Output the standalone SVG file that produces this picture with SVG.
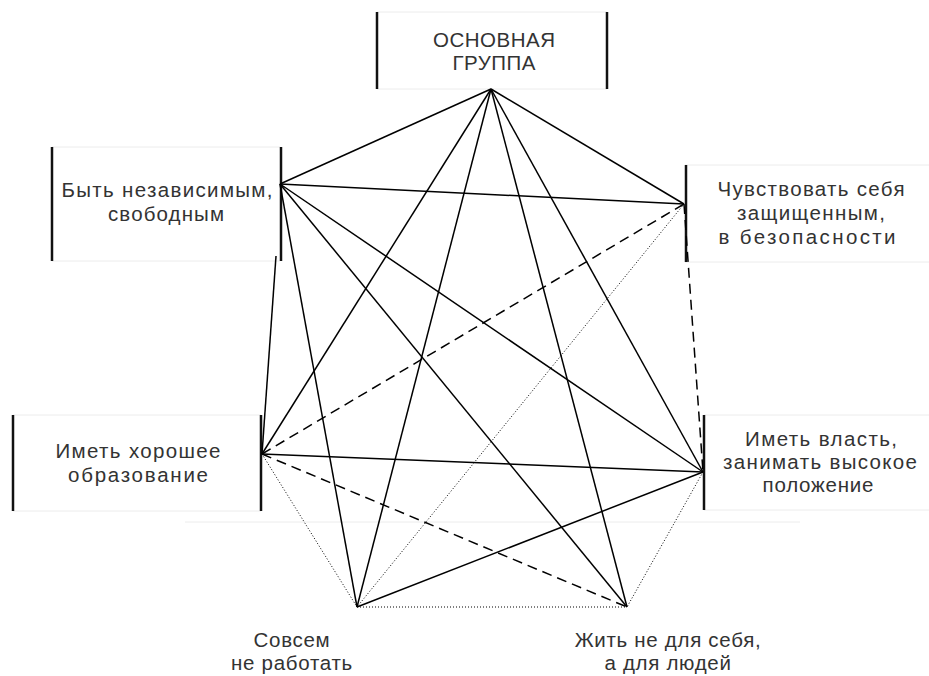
<svg xmlns="http://www.w3.org/2000/svg" width="929" height="676" viewBox="0 0 929 676">
<style>
.bg{fill:#ffffff}
.bar{stroke:#111;stroke-width:2.5;fill:none}
.rule{stroke:#ececec;stroke-width:1;fill:none}
.t{font-family:"Liberation Sans",Arial,sans-serif;font-size:20.5px;fill:#333;text-anchor:middle}
.b{letter-spacing:0.7px}
.s{stroke:#000;stroke-width:1.5;fill:none}
.d{stroke:#000;stroke-width:1.5;fill:none;stroke-dasharray:10 6}
.o{stroke:#000;stroke-width:1;fill:none;stroke-dasharray:1 2}
</style>
<rect class="bg" x="0" y="0" width="929" height="676"/>
<g id="rules">
<line class="rule" x1="185" y1="522" x2="800" y2="522"/>
</g>
<g id="node-main">
<line class="rule" x1="377" y1="12" x2="607" y2="12"/>
<line class="rule" x1="377" y1="89" x2="607" y2="89"/>
<line class="bar" x1="377" y1="12" x2="377" y2="89"/>
<line class="bar" x1="607" y1="12" x2="607" y2="89"/>
<text class="t" x="494" y="47" textLength="122" lengthAdjust="spacing">ОСНОВНАЯ</text>
<text class="t" x="494" y="70" textLength="83" lengthAdjust="spacing">ГРУППА</text>
</g>
<g id="node-free">
<line class="rule" x1="52" y1="147" x2="280" y2="147"/>
<line class="rule" x1="52" y1="261" x2="280" y2="261"/>
<line class="bar" x1="52" y1="147" x2="52" y2="261"/>
<line class="bar" x1="281" y1="147" x2="281" y2="261"/>
<text class="t" x="167" y="197" textLength="211" lengthAdjust="spacing">Быть независимым,</text>
<text class="t" x="166" y="221" textLength="116" lengthAdjust="spacing">свободным</text>
</g>
<g id="node-safe">
<line class="rule" x1="685" y1="165" x2="929" y2="165"/>
<line class="rule" x1="685" y1="262" x2="929" y2="262"/>
<line class="bar" x1="686" y1="165" x2="686" y2="262"/>
<text class="t" x="811" y="196" textLength="187" lengthAdjust="spacing">Чувствовать себя</text>
<text class="t" x="811" y="220" textLength="148" lengthAdjust="spacing">защищенным,</text>
<text class="t" x="807" y="244" textLength="177" lengthAdjust="spacing">в безопасности</text>
</g>
<g id="node-edu">
<line class="rule" x1="13" y1="415" x2="261" y2="415"/>
<line class="rule" x1="13" y1="511" x2="261" y2="511"/>
<line class="bar" x1="13" y1="415" x2="13" y2="511"/>
<line class="bar" x1="261" y1="415" x2="261" y2="511"/>
<text class="t" x="138" y="458" textLength="165" lengthAdjust="spacing">Иметь хорошее</text>
<text class="t" x="138" y="482" textLength="140" lengthAdjust="spacing">образование</text>
</g>
<g id="node-power">
<line class="rule" x1="704" y1="415" x2="929" y2="415"/>
<line class="rule" x1="704" y1="510" x2="929" y2="510"/>
<line class="bar" x1="704" y1="415" x2="704" y2="510"/>
<text class="t" x="821" y="446" textLength="152" lengthAdjust="spacing">Иметь власть,</text>
<text class="t" x="820" y="469" textLength="194" lengthAdjust="spacing">занимать высокое</text>
<text class="t" x="818" y="492" textLength="111" lengthAdjust="spacing">положение</text>
</g>
<g id="node-nowork">
<text class="t b" x="292" y="647">Совсем</text>
<text class="t b" x="292" y="670">не работать</text>
</g>
<g id="node-others">
<text class="t b" x="668" y="647">Жить не для себя,</text>
<text class="t b" x="668" y="670">а для людей</text>
</g>
<g id="connectors">
<line class="s" x1="491" y1="89" x2="280" y2="184"/>
<line class="s" x1="491" y1="89" x2="684" y2="204"/>
<line class="s" x1="491" y1="89" x2="262" y2="454"/>
<line class="s" x1="491" y1="89" x2="357" y2="607"/>
<line class="s" x1="491" y1="89" x2="627" y2="607"/>
<line class="s" x1="491" y1="89" x2="703" y2="472"/>
<line class="s" x1="280" y1="184" x2="684" y2="204"/>
<line class="s" x1="280" y1="184" x2="703" y2="472"/>
<line class="s" x1="280" y1="184" x2="627" y2="607"/>
<line class="s" x1="280" y1="184" x2="357" y2="607"/>
<line class="s" x1="276" y1="256" x2="262" y2="454"/>
<line class="s" x1="262" y1="454" x2="703" y2="472"/>
<line class="s" x1="357" y1="607" x2="703" y2="472"/>
<line class="d" x1="262" y1="454" x2="684" y2="204"/>
<line class="d" x1="262" y1="454" x2="627" y2="607"/>
<line class="d" x1="684" y1="204" x2="703" y2="472"/>
<line class="o" x1="684" y1="204" x2="357" y2="607"/>
<line class="o" x1="262" y1="454" x2="357" y2="607"/>
<line class="o" x1="357" y1="607" x2="627" y2="607"/>
<line class="o" x1="703" y1="472" x2="627" y2="607"/>
</g>
</svg>
